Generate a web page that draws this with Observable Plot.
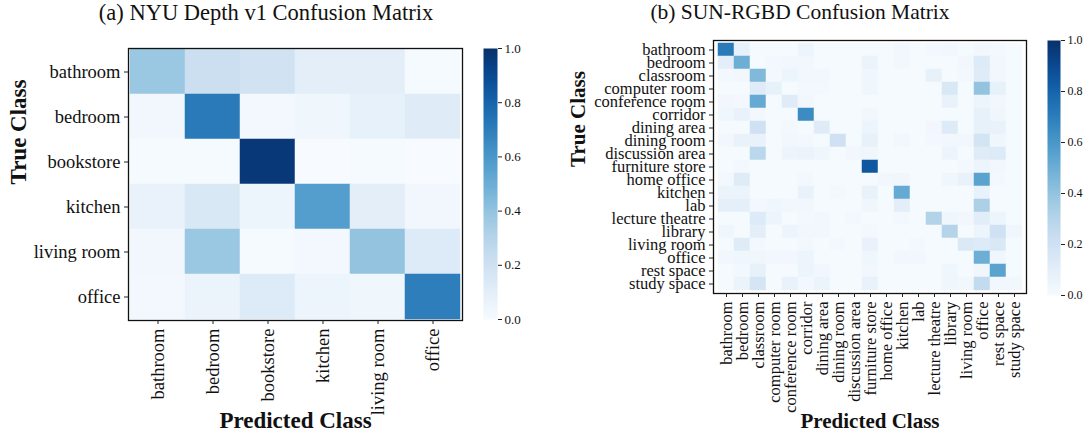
<!DOCTYPE html>
<html>
<head>
<meta charset="utf-8">
<script src="https://cdn.jsdelivr.net/npm/d3@7"></script>
<script src="https://cdn.jsdelivr.net/npm/@observablehq/plot@0.6"></script>
<style>
  html, body { margin: 0; padding: 0; background: #fff; }
  #wrap { position: relative; width: 1085px; height: 440px; overflow: hidden; font-family: "Liberation Serif", serif; color: #111; }
  #wrap > * { position: absolute; }
  .title { text-align: center; white-space: nowrap; }
</style>
</head>
<body>
<div id="wrap">
  <div class="title" style="left:66px; width:400px; top:0px; font-size:22.5px; line-height:25px;">(a) NYU Depth v1 Confusion Matrix</div>
  <div class="title" style="left:600px; width:400px; top:0px; font-size:21.5px; line-height:24px;">(b) SUN-RGBD Confusion Matrix</div>
</div>
<script>
// ---------- data ----------
const nyuClasses = ["bathroom", "bedroom", "bookstore", "kitchen", "living room", "office"];
// rows = true class, columns = predicted class
const nyuMatrix = [
  [0.38, 0.22, 0.19, 0.10, 0.10, 0.01],
  [0.03, 0.72, 0.02, 0.04, 0.08, 0.12],
  [0.01, 0.01, 0.97, 0.00, 0.01, 0.00],
  [0.07, 0.15, 0.05, 0.57, 0.10, 0.03],
  [0.03, 0.38, 0.01, 0.02, 0.40, 0.13],
  [0.02, 0.06, 0.13, 0.05, 0.04, 0.70]
];

const sunClasses = ["bathroom", "bedroom", "classroom", "computer room", "conference room", "corridor",
  "dining area", "dining room", "discussion area", "furniture store", "home office", "kitchen", "lab",
  "lecture theatre", "library", "living room", "office", "rest space", "study space"];
const sunMatrix = [
  [0.72, 0.08, 0.01, 0.01, 0.01, 0.05, 0.01, 0.01, 0.01, 0.01, 0.01, 0.03, 0.01, 0.02, 0.03, 0.01, 0.03, 0.02, 0.01],
  [0.10, 0.50, 0.01, 0.02, 0.03, 0.03, 0.01, 0.01, 0.01, 0.06, 0.01, 0.03, 0.01, 0.01, 0.01, 0.03, 0.13, 0.03, 0.01],
  [0.02, 0.03, 0.45, 0.02, 0.05, 0.03, 0.03, 0.01, 0.01, 0.04, 0.01, 0.01, 0.01, 0.08, 0.01, 0.02, 0.12, 0.03, 0.01],
  [0.01, 0.01, 0.12, 0.08, 0.01, 0.02, 0.02, 0.01, 0.01, 0.04, 0.01, 0.01, 0.01, 0.01, 0.15, 0.01, 0.40, 0.08, 0.01],
  [0.03, 0.02, 0.52, 0.01, 0.12, 0.03, 0.01, 0.01, 0.01, 0.01, 0.01, 0.01, 0.01, 0.01, 0.07, 0.01, 0.05, 0.03, 0.01],
  [0.04, 0.07, 0.02, 0.01, 0.01, 0.65, 0.01, 0.01, 0.01, 0.03, 0.01, 0.01, 0.01, 0.01, 0.01, 0.01, 0.08, 0.04, 0.01],
  [0.01, 0.01, 0.20, 0.01, 0.02, 0.01, 0.12, 0.01, 0.01, 0.05, 0.01, 0.01, 0.01, 0.03, 0.13, 0.01, 0.08, 0.07, 0.01],
  [0.03, 0.07, 0.07, 0.01, 0.03, 0.02, 0.01, 0.20, 0.01, 0.08, 0.01, 0.03, 0.01, 0.02, 0.03, 0.03, 0.18, 0.04, 0.01],
  [0.01, 0.01, 0.28, 0.01, 0.05, 0.06, 0.04, 0.01, 0.03, 0.04, 0.01, 0.01, 0.01, 0.01, 0.05, 0.01, 0.12, 0.13, 0.01],
  [0.01, 0.02, 0.01, 0.01, 0.01, 0.01, 0.01, 0.01, 0.01, 0.85, 0.01, 0.01, 0.01, 0.01, 0.01, 0.02, 0.05, 0.03, 0.01],
  [0.02, 0.12, 0.01, 0.01, 0.01, 0.02, 0.01, 0.01, 0.01, 0.01, 0.03, 0.04, 0.01, 0.01, 0.04, 0.07, 0.55, 0.02, 0.01],
  [0.06, 0.06, 0.01, 0.01, 0.01, 0.07, 0.01, 0.02, 0.01, 0.07, 0.01, 0.52, 0.01, 0.01, 0.01, 0.01, 0.07, 0.01, 0.01],
  [0.09, 0.09, 0.02, 0.04, 0.03, 0.03, 0.01, 0.01, 0.01, 0.04, 0.01, 0.10, 0.01, 0.01, 0.01, 0.01, 0.33, 0.01, 0.01],
  [0.01, 0.01, 0.13, 0.05, 0.01, 0.02, 0.03, 0.01, 0.02, 0.01, 0.01, 0.02, 0.01, 0.31, 0.04, 0.03, 0.11, 0.05, 0.01],
  [0.04, 0.01, 0.10, 0.01, 0.05, 0.03, 0.03, 0.01, 0.01, 0.02, 0.01, 0.01, 0.01, 0.01, 0.30, 0.01, 0.05, 0.20, 0.04],
  [0.01, 0.12, 0.02, 0.01, 0.01, 0.02, 0.01, 0.02, 0.01, 0.07, 0.01, 0.01, 0.02, 0.01, 0.01, 0.14, 0.13, 0.15, 0.01],
  [0.03, 0.04, 0.04, 0.03, 0.03, 0.05, 0.01, 0.01, 0.01, 0.04, 0.01, 0.03, 0.03, 0.01, 0.01, 0.01, 0.50, 0.04, 0.01],
  [0.01, 0.02, 0.08, 0.01, 0.01, 0.05, 0.03, 0.01, 0.01, 0.03, 0.01, 0.01, 0.01, 0.01, 0.04, 0.01, 0.04, 0.55, 0.01],
  [0.01, 0.06, 0.17, 0.01, 0.07, 0.02, 0.06, 0.01, 0.01, 0.07, 0.01, 0.01, 0.01, 0.01, 0.04, 0.03, 0.25, 0.03, 0.03]
];

const colorTicks = [0, 0.2, 0.4, 0.6, 0.8, 1.0];

// ---------- helpers ----------
const toCells = (classes, matrix) =>
  matrix.flatMap((row, i) => row.map((v, j) => ({trueClass: classes[i], predClass: classes[j], v})));

const colorScale = {type: "linear", scheme: "blues", domain: [0, 1]};
const font = "'Liberation Serif', serif";

function heatmap({classes, matrix, width, height, mL, mR, mT, mB, fontSize, labelSize, xLabelDy, yLabelDx}) {
  return Plot.plot({
    width, height,
    marginLeft: mL, marginRight: mR, marginTop: mT, marginBottom: mB,
    style: {fontFamily: font, fontSize: fontSize + "px", color: "#111", background: "transparent", overflow: "visible"},
    x: {domain: classes, padding: 0, label: null},
    y: {domain: classes, padding: 0, label: null},
    color: colorScale,
    marks: [
      Plot.cell(toCells(classes, matrix), {x: "predClass", y: "trueClass", fill: "v", stroke: "v", strokeWidth: 0.5}),
      Plot.frame({stroke: "#111", strokeWidth: 1.3}),
      Plot.axisX({tickRotate: -90, tickSize: 4, tickPadding: 4, label: null, fontSize, stroke: "#222"}),
      Plot.axisY({tickSize: 4, tickPadding: 4, label: null, fontSize, stroke: "#222"}),
      Plot.text(["Predicted Class"], {text: d => d, frameAnchor: "bottom", dy: xLabelDy, fontWeight: "bold", fontSize: labelSize, fill: "#111"}),
      Plot.text(["True Class"], {text: d => d, frameAnchor: "left", dx: yLabelDx, rotate: -90, fontWeight: "bold", fontSize: labelSize, fill: "#111"})
    ]
  });
}

function colorbar({height, mT, mB, barWidth, mR, fontSize}) {
  return Plot.plot({
    width: barWidth + mR, height,
    marginLeft: 0, marginRight: mR, marginTop: mT, marginBottom: mB,
    style: {fontFamily: font, fontSize: fontSize + "px", color: "#111", background: "transparent", overflow: "visible"},
    x: {domain: [0, 1], axis: null},
    y: {domain: [0, 1], axis: null},
    color: colorScale,
    marks: [
      Plot.raster({x1: 0, x2: 1, y1: 0, y2: 1, width: 1, height: 256, fill: (x, y) => y, imageRendering: "auto"}),
      Plot.axisY({anchor: "right", ticks: colorTicks, tickFormat: d3.format(".1f"), tickSize: 4, tickPadding: 3, label: null, fontSize, stroke: "#222"})
    ]
  });
}

const wrap = document.getElementById("wrap");
function place(el, left, top) {
  el.style.position = "absolute";
  el.style.left = left + "px";
  el.style.top = top + "px";
  wrap.appendChild(el);
}

// (a) NYU Depth v1 : frame x 128..462, y 48..320
place(heatmap({classes: nyuClasses, matrix: nyuMatrix, width: 540, height: 440,
  mL: 128, mR: 78, mT: 48, mB: 120, fontSize: 18.5, labelSize: 23, xLabelDy: 107, yLabelDx: -110}), 0, 0);
place(colorbar({height: 330, mT: 48, mB: 11, barWidth: 14, mR: 40, fontSize: 13}), 483, 0);

// (b) SUN-RGBD : frame x 713..1026, y 40..293
place(heatmap({classes: sunClasses, matrix: sunMatrix, width: 500, height: 440,
  mL: 173, mR: 14, mT: 40, mB: 147, fontSize: 16.5, labelSize: 21, xLabelDy: 134, yLabelDx: -135}), 540, 0);
place(colorbar({height: 305, mT: 40, mB: 10, barWidth: 13, mR: 25, fontSize: 12}), 1047, 0);
</script>
</body>
</html>
